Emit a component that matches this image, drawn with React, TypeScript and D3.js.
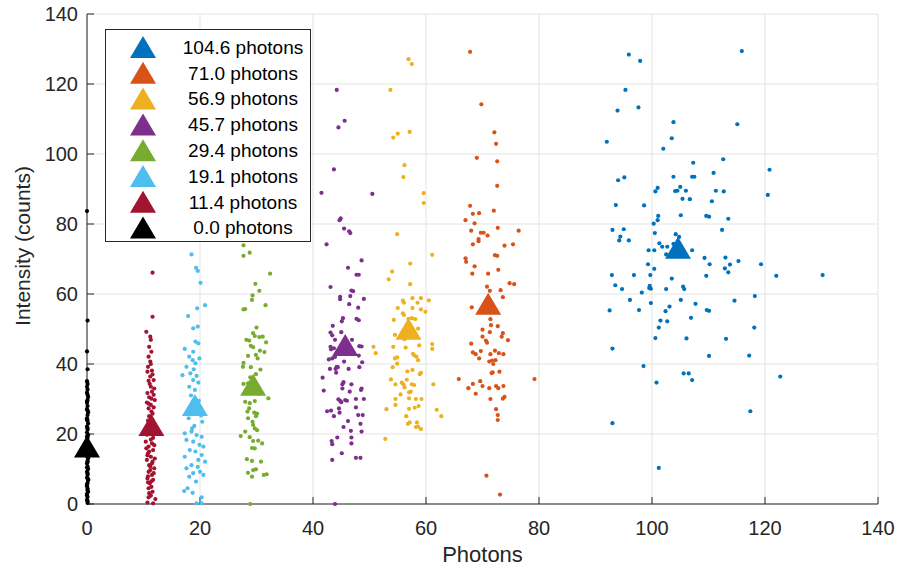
import React from 'react';
import * as d3 from 'd3';

type Pt = [number, number];

// legend labels, colours and mean markers (photons, intensity)
const labels = ['104.6 photons', '71.0 photons', '56.9 photons', '45.7 photons', '29.4 photons', '19.1 photons', '11.4 photons', '0.0 photons'];
const colors = ['#0072BD', '#D95319', '#EDB120', '#7E2F8E', '#77AC30', '#4DBEEE', '#A2142F', '#000000'];
const meanX = [104.6, 71.0, 56.9, 45.7, 29.4, 19.1, 11.4, 0.0];
const meanY = [73.2, 57.2, 50.1, 45.4, 34.1, 28.3, 22.6, 16.4];

const xTicks = [0, 20, 40, 60, 80, 100, 120, 140];
const yTicks = [0, 20, 40, 60, 80, 100, 120, 140];

const blueDots: Pt[] = [[95.9,128.4],[97.9,126.6],[115.9,129.4],[95.3,118.3],[93.9,112.4],[97.6,113.3],[103.8,109.1],[115.1,108.5],[92.0,103.5],[103.5,104.5],[102.0,101.5],[107.3,97.5],[112.6,98.5],[120.8,95.5],[94.0,92.5],[95.1,93.3],[103.8,93.5],[107.1,93.5],[107.5,93.5],[110.9,94.6],[100.6,89.3],[101.0,90.3],[104.1,89.4],[104.5,89.5],[105.0,90.6],[106.0,89.5],[111.3,89.5],[112.7,89.3],[120.5,88.3],[105.4,87.2],[106.7,87.1],[110.6,86.5],[93.6,85.4],[98.6,85.3],[101.1,82.3],[101.0,81.1],[100.3,80.1],[105.1,82.5],[109.6,82.3],[110.1,82.1],[113.5,81.5],[93.0,78.3],[95.0,78.5],[100.5,77.4],[112.4,78.3],[94.4,76.4],[94.2,75.3],[95.9,75.3],[104.2,77.1],[104.8,76.3],[101.3,74.5],[101.8,73.5],[102.7,73.5],[103.8,74.3],[99.4,72.5],[100.4,72.5],[107.1,72.5],[102.5,71.3],[109.3,70.3],[113.0,70.4],[115.3,69.4],[99.3,68.5],[100.4,67.2],[110.2,68.5],[112.9,67.3],[113.5,66.2],[113.8,68.4],[119.3,68.5],[92.9,65.4],[96.8,65.4],[99.7,65.4],[109.6,65.2],[122.0,65.2],[130.2,65.4],[103.5,64.4],[93.5,62.5],[94.7,61.4],[99.6,62.3],[99.8,61.5],[99.5,61.7],[102.5,61.4],[105.5,62.1],[105.7,61.4],[98.2,60.4],[96.1,58.3],[105.1,58.3],[114.6,58.1],[118.2,59.4],[99.8,57.4],[107.7,57.2],[92.5,55.3],[97.7,55.4],[103.1,56.4],[102.4,55.1],[109.7,55.4],[110.1,55.2],[106.9,53.2],[101.5,52.4],[102.7,52.2],[101.2,50.4],[118.1,50.4],[100.6,47.4],[106.1,47.3],[113.1,47.2],[93.0,44.4],[110.1,42.3],[117.2,42.4],[98.5,39.4],[105.6,37.3],[106.5,37.3],[107.1,35.4],[100.8,34.7],[122.7,36.4],[117.4,26.5],[93.0,23.1],[101.2,10.3]];

const orangeDots: Pt[] = [[67.8,129.2],[69.8,114.2],[72.1,106.2],[72.4,102.9],[69.0,98.9],[72.6,97.9],[72.6,90.9],[67.8,85.2],[68.3,82.9],[69.4,83.1],[72.0,83.8],[67.0,81.1],[68.6,80.2],[72.7,78.9],[68.0,78.1],[69.7,77.5],[70.2,77.5],[70.9,76.7],[76.4,78.1],[69.3,75.7],[69.3,75.1],[68.3,74.2],[73.9,73.8],[75.4,74.2],[72.2,71.1],[72.6,70.9],[67.0,70.2],[67.1,69.2],[68.6,67.9],[72.8,66.9],[68.2,65.8],[71.0,65.8],[74.8,63.1],[75.6,62.8],[70.8,62.1],[71.3,60.9],[73.2,61.1],[73.6,59.1],[68.1,56.2],[71.4,52.8],[71.5,51.1],[72.7,50.8],[70.0,49.8],[71.3,49.1],[73.6,48.8],[73.4,47.8],[70.0,47.8],[70.6,46.7],[70.8,46.1],[74.5,46.8],[68.0,45.8],[68.3,43.3],[68.8,42.8],[69.7,43.7],[69.4,41.6],[72.2,43.8],[72.9,43.1],[73.7,42.8],[71.4,42.8],[72.3,41.1],[71.7,41.0],[71.2,40.7],[71.9,40.0],[73.0,37.8],[71.8,37.6],[71.6,37.4],[65.8,35.7],[79.2,35.7],[69.6,35.1],[70.0,33.7],[68.3,34.3],[67.5,33.1],[71.2,33.1],[72.4,33.7],[72.8,33.1],[73.7,33.7],[68.8,31.5],[71.4,30.0],[73.6,30.1],[73.9,30.6],[72.4,27.1],[72.7,25.4],[72.7,24.0],[70.7,8.1],[73.1,2.7]];

const yellowDots: Pt[] = [[56.9,127.1],[57.5,125.7],[53.7,118.3],[54.2,104.7],[55.0,105.8],[57.1,106.3],[56.2,96.8],[56.0,93.4],[59.6,88.8],[59.6,86.0],[54.9,77.1],[61.1,71.2],[57.2,68.7],[54.0,66.4],[53.4,64.2],[57.2,62.8],[55.9,58.1],[56.1,57.5],[57.6,58.8],[58.5,57.5],[59.1,58.8],[60.5,58.2],[55.0,56.0],[57.6,56.0],[59.1,55.6],[59.9,54.9],[55.9,54.5],[56.1,54.0],[54.3,52.6],[56.9,52.9],[57.5,53.1],[58.1,52.8],[58.6,50.1],[54.5,48.3],[56.2,47.1],[50.7,44.9],[51.1,43.1],[54.2,44.9],[56.4,44.7],[58.8,45.3],[61.1,45.7],[61.1,44.3],[57.7,42.9],[57.9,42.5],[58.3,42.1],[58.6,41.1],[54.5,41.6],[54.9,41.9],[54.9,40.1],[54.1,39.1],[56.7,37.9],[57.6,38.3],[58.9,37.1],[59.1,37.5],[53.8,35.6],[56.6,35.5],[54.6,34.2],[55.7,34.7],[56.0,34.2],[56.2,33.3],[57.5,34.2],[57.9,34.0],[61.3,34.2],[57.0,31.9],[57.3,32.1],[55.5,31.3],[54.6,30.0],[54.6,28.3],[57.0,30.2],[58.2,30.0],[59.2,30.0],[53.0,27.1],[57.0,27.2],[58.0,27.5],[58.7,28.0],[61.9,26.9],[62.7,25.1],[56.5,25.1],[57.1,23.3],[56.8,22.9],[58.4,23.3],[58.6,22.1],[58.2,22.0],[59.1,21.4],[52.8,18.6]];

const purpleDots: Pt[] = [[44.2,118.3],[45.6,109.5],[44.5,107.6],[43.7,95.6],[41.5,88.9],[50.5,88.6],[44.9,81.6],[44.7,81.1],[45.5,78.7],[46.4,77.9],[46.6,77.4],[42.4,74.2],[48.6,69.6],[46.2,67.5],[47.7,65.5],[48.1,65.5],[43.1,62.0],[46.8,61.0],[47.1,60.8],[44.8,59.2],[44.8,58.5],[46.6,59.4],[49.0,58.6],[46.4,57.1],[48.0,56.1],[45.3,53.1],[45.1,52.2],[47.7,52.9],[48.1,52.5],[43.5,50.9],[43.1,49.0],[43.4,48.2],[45.0,49.1],[43.9,46.9],[46.9,46.9],[43.1,44.9],[43.2,44.2],[43.7,44.5],[48.2,45.1],[48.6,45.0],[42.8,41.3],[43.4,41.6],[43.9,42.0],[48.1,42.4],[45.5,40.7],[48.7,40.5],[44.2,39.2],[44.0,38.6],[44.4,39.1],[43.0,38.6],[46.3,38.6],[48.2,39.1],[44.1,37.5],[41.7,36.1],[45.4,34.8],[45.2,34.2],[46.8,34.2],[45.2,33.0],[48.6,33.0],[48.5,32.6],[41.9,32.4],[46.5,32.1],[44.5,29.9],[44.8,29.5],[45.0,29.1],[45.7,29.7],[46.0,29.5],[47.6,30.0],[49.0,30.0],[44.6,27.3],[47.6,27.6],[42.5,26.5],[43.2,26.7],[44.7,26.1],[43.7,25.1],[48.0,25.4],[48.8,25.4],[46.2,23.7],[48.4,22.9],[45.4,22.0],[46.7,20.9],[48.6,20.7],[44.3,19.0],[46.8,19.0],[43.3,18.0],[43.4,17.1],[46.8,17.3],[45.1,14.5],[43.4,12.6],[47.6,13.2],[48.4,13.2],[43.9,0.0]];

const greenDots: Pt[] = [[27.7,73.9],[27.7,70.9],[28.8,71.8],[32.4,65.8],[29.8,62.9],[30.5,60.9],[29.3,59.6],[29.2,58.3],[31.6,56.8],[27.7,55.6],[28.0,55.7],[30.0,50.4],[29.4,48.8],[29.7,48.0],[30.5,47.7],[31.1,47.8],[28.2,46.9],[28.7,46.7],[31.7,46.2],[29.0,45.2],[29.4,44.8],[30.6,43.8],[31.4,43.4],[29.9,42.6],[28.5,42.3],[30.2,41.6],[27.7,40.3],[27.6,39.2],[29.0,39.1],[29.9,37.1],[27.7,34.3],[28.5,34.5],[32.1,30.2],[28.0,29.2],[28.8,28.8],[29.7,29.4],[28.7,27.3],[28.4,26.4],[29.6,26.1],[30.1,25.8],[29.9,25.1],[28.5,24.5],[29.3,23.5],[29.4,22.6],[29.7,21.6],[30.1,21.1],[28.0,20.7],[27.2,19.4],[28.8,19.1],[29.4,18.0],[30.3,18.1],[31.0,17.3],[29.2,16.0],[29.7,15.9],[28.3,12.8],[29.2,12.3],[30.8,12.1],[29.4,9.7],[29.9,9.9],[28.5,8.9],[29.2,7.8],[31.3,8.3],[31.8,8.5],[28.9,0.0],[29.5,33.1],[30.4,31.6],[28.9,36.2],[30.7,38.4]];

const lightBlueDots: Pt[] = [[18.5,71.3],[19.3,67.5],[19.6,66.6],[20.1,63.2],[20.9,56.8],[19.5,55.9],[17.9,53.7],[19.6,50.7],[18.8,50.2],[19.2,46.4],[19.7,45.9],[17.3,44.3],[18.8,43.5],[18.1,42.1],[18.7,41.1],[19.2,40.2],[17.6,39.2],[18.9,38.5],[18.3,37.3],[19.4,36.6],[16.9,36.8],[18.8,35.4],[19.7,34.7],[18.1,33.5],[19.1,32.6],[18.4,31.0],[19.8,29.5],[18.0,24.5],[20.4,23.5],[19.0,22.3],[17.3,20.2],[18.5,20.7],[19.4,19.7],[20.3,19.2],[17.6,18.3],[18.8,17.8],[19.9,16.9],[20.6,16.4],[18.2,15.4],[19.2,15.0],[20.3,14.0],[17.3,13.5],[19.7,12.6],[20.9,12.1],[18.5,11.1],[17.6,10.2],[20.0,9.2],[18.8,8.8],[18.1,7.8],[20.6,8.3],[19.3,6.4],[17.8,4.5],[17.2,3.7],[18.7,3.2],[20.3,1.9],[19.4,0.2],[20.3,0.2],[19.9,41.6],[17.8,26.4],[20.2,25.3],[18.6,21.6],[19.6,10.6]];

const redDots: Pt[] = [[11.6,66.1],[11.6,53.5],[10.5,49.2],[11.2,47.8],[11.3,46.9],[11.0,44.9],[10.9,42.1],[11.2,40.7],[11.3,40.0],[10.7,37.8],[11.5,38.1],[11.2,36.4],[11.8,35.4],[10.9,35.2],[11.3,33.5],[11.5,32.1],[11.0,30.5],[12.0,29.7],[11.3,28.3],[10.9,27.3],[11.4,26.4],[11.2,24.9],[10.8,23.8],[11.9,22.4],[11.1,21.0],[10.6,19.8],[11.7,18.9],[10.4,17.8],[11.5,17.3],[10.9,16.4],[11.7,15.4],[10.8,14.5],[11.3,13.5],[10.6,12.6],[11.6,12.1],[11.0,11.1],[11.9,10.2],[10.9,9.2],[11.5,8.3],[10.7,7.3],[11.7,6.9],[11.1,5.9],[10.9,4.5],[11.6,3.5],[11.3,2.4],[10.7,0.4],[11.7,0.2],[11.8,31.2],[10.6,29.0],[11.6,25.8],[12.1,20.5],[10.5,15.9],[12.0,13.0],[11.2,10.7],[10.8,6.2],[11.4,4.9],[12.1,1.4],[10.9,1.9],[11.4,43.5],[10.8,39.2],[11.1,34.3],[11.9,33.0],[10.7,31.7],[11.4,30.1],[10.9,28.7],[11.8,27.6],[11.0,25.1],[11.5,23.3],[10.6,22.0],[11.3,18.4],[11.9,16.8],[11.0,15.0],[10.7,13.9],[11.5,11.6],[11.2,9.7],[11.8,8.8],[10.8,7.9],[11.4,6.5],[11.0,3.1],[11.6,37.0]];

const blackDots: Pt[] = [[0.1,0.3],[0.0,1.2],[0.1,2.0],[0.0,2.9],[0.2,3.5],[0.1,4.4],[0.0,5.1],[0.1,6.0],[0.2,6.8],[0.0,7.5],[0.1,8.3],[0.0,9.2],[0.2,10.0],[0.1,10.7],[0.0,11.6],[0.1,12.3],[0.2,13.1],[0.0,14.0],[0.1,14.8],[0.0,15.5],[0.2,16.3],[0.1,17.2],[0.0,18.0],[0.1,18.9],[0.2,19.7],[0.0,20.4],[0.1,21.3],[0.0,22.1],[0.2,23.0],[0.1,23.8],[0.0,24.5],[0.1,25.4],[0.2,26.2],[0.0,27.1],[0.1,28.0],[0.0,28.9],[0.1,29.7],[0.2,30.6],[0.0,31.8],[0.1,32.7],[0.0,33.5],[0.1,34.3],[0.0,35.1],[0.1,38.5],[0.0,43.6],[0.1,52.4],[0.0,83.7],[0.1,0.8],[0.0,2.4],[0.1,3.9],[0.0,5.6],[0.2,7.1],[0.1,8.8],[0.0,10.4],[0.1,12.0],[0.0,13.6],[0.2,15.1],[0.1,16.8],[0.0,19.3],[0.1,21.7],[0.0,24.1],[0.1,26.7],[0.0,29.3],[0.1,31.2]];

const groups = [blueDots, orangeDots, yellowDots, purpleDots, greenDots, lightBlueDots, redDots, blackDots];

const W = 901;
const H = 574;
const margin = { top: 14, right: 23, bottom: 70, left: 87 };

const x = d3.scaleLinear().domain([0, 140]).range([margin.left, W - margin.right]);
const y = d3.scaleLinear().domain([0, 140]).range([H - margin.bottom, margin.top]);

const axisColor = '#262626';
const gridColor = '#e3e3e3';
const font = 'Arial, "Liberation Sans", Helvetica, sans-serif';
const tri = 'M0,-11L13,11L-13,11Z';

export default function App() {
  const x0 = x(0);
  const y0 = y(0);
  const legendRows = labels.map((_, i) => 47 + i * 25.8);

  return (
    <div style={{ position: 'absolute', left: 0, top: 0 }}>
      <svg width={W} height={H} style={{ display: 'block', background: '#fff' }} fontFamily={font}>
        {/* grid */}
        {xTicks.map(t => (
          <line key={'gx' + t} x1={x(t)} x2={x(t)} y1={y(140)} y2={y0} stroke={gridColor} strokeWidth={1} />
        ))}
        {yTicks.map(t => (
          <line key={'gy' + t} x1={x0} x2={x(140)} y1={y(t)} y2={y(t)} stroke={gridColor} strokeWidth={1} />
        ))}

        {/* axes */}
        <line x1={x0} x2={x(140)} y1={y0} y2={y0} stroke={axisColor} strokeWidth={1} />
        <line x1={x0} x2={x0} y1={y(140)} y2={y0} stroke={axisColor} strokeWidth={1} />
        {xTicks.map(t => (
          <g key={'tx' + t}>
            <line x1={x(t)} x2={x(t)} y1={y0} y2={y0 - 7} stroke={axisColor} />
            <text x={x(t)} y={y0 + 31} textAnchor="middle" fontSize={20} fill={axisColor}>{t}</text>
          </g>
        ))}
        {yTicks.map(t => (
          <g key={'ty' + t}>
            <line x1={x0} x2={x0 + 7} y1={y(t)} y2={y(t)} stroke={axisColor} />
            <text x={x0 - 9} y={y(t)} dy="0.36em" textAnchor="end" fontSize={20} fill={axisColor}>{t}</text>
          </g>
        ))}
        <text x={(x0 + x(140)) / 2} y={562} textAnchor="middle" fontSize={22} fill={axisColor}>Photons</text>
        <text transform={`translate(29.5,246) rotate(-90)`} textAnchor="middle" fontSize={21} fill={axisColor}>Intensity (counts)</text>

        {/* scatter */}
        {groups.map((pts, gi) => (
          <g key={'g' + gi} fill={colors[gi]}>
            {pts.map((p, i) => (
              <circle key={i} cx={x(p[0])} cy={y(p[1])} r={2.1} />
            ))}
          </g>
        ))}

        {/* mean markers */}
        {meanX.map((mx, i) => (
          <path key={'m' + i} d={tri} transform={`translate(${x(mx)},${y(meanY[i])})`} fill={colors[i]} />
        ))}

        {/* legend */}
        <rect x={105.5} y={29.5} width={205} height={212} fill="#fff" stroke={axisColor} strokeWidth={1} />
        {labels.map((lab, i) => (
          <g key={'l' + i}>
            <path d={tri} transform={`translate(143,${legendRows[i]})`} fill={colors[i]} />
            <text x={243} y={legendRows[i]} dy="0.36em" textAnchor="middle" fontSize={19} fill="#000">{lab}</text>
          </g>
        ))}
      </svg>
    </div>
  );
}
